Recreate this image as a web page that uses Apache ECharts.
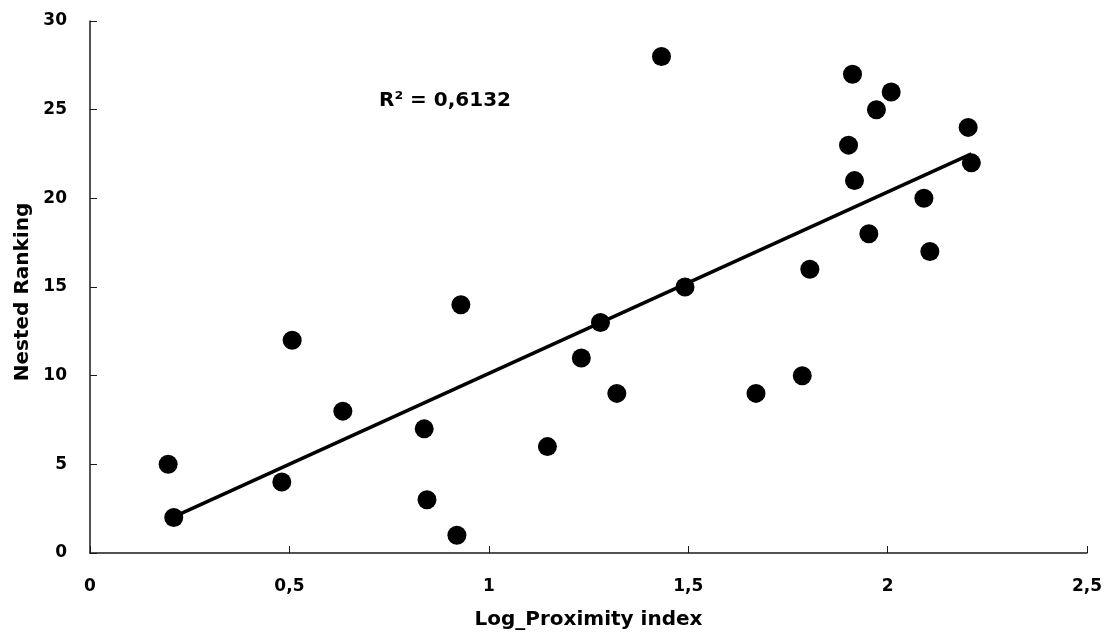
<!DOCTYPE html>
<html>
<head>
<meta charset="utf-8">
<script src="https://cdn.jsdelivr.net/npm/echarts@6/dist/echarts.min.js"></script>
<style>
  html, body { margin: 0; padding: 0; background: #fff; }
  #chart { width: 1108px; height: 639px; }
</style>
</head>
<body>
<div id="chart"></div>
<script>
// valeurs
var proximity = [0.196, 0.21, 0.481, 0.507, 0.634, 0.838, 0.845, 0.92, 0.93, 1.147, 1.232, 1.28, 1.321, 1.433,
                 1.492, 1.67, 1.786, 1.805, 1.902, 1.912, 1.917, 1.953, 1.972, 2.009, 2.091, 2.106, 2.202, 2.21];
var ranking = [5, 2, 4, 12, 8, 7, 3, 1, 14, 6, 11, 13, 9, 28,
               15, 9, 10, 16, 23, 27, 21, 18, 25, 26, 20, 17, 24, 22];
var r2Label = 'R² = 0,6132';

var font = '"DejaVu Sans", "Open Sans", sans-serif';

var points = proximity.map(function (x, i) { return [x, ranking[i]]; });

// droite de tendance (moindres carrés), du min au max de x
function trend(pts) {
    var n = pts.length, sx = 0, sy = 0, sxx = 0, sxy = 0;
    pts.forEach(function (p) { sx += p[0]; sy += p[1]; sxx += p[0] * p[0]; sxy += p[0] * p[1]; });
    var b = (n * sxy - sx * sy) / (n * sxx - sx * sx);
    var a = (sy - b * sx) / n;
    var xmin = Math.min.apply(null, pts.map(p => p[0]));
    var xmax = Math.max.apply(null, pts.map(p => p[0]));
    return [[xmin, a + b * xmin], [xmax, a + b * xmax]];
}

var myChart = echarts.init(document.getElementById('chart'));

var option = {
    backgroundColor: '#fff',
    animation: false,
    grid: { left: 90, right: 21, top: 21, bottom: 86 },
    xAxis: {
        type: 'value',
        min: 0, max: 2.5, interval: 0.5,
        name: 'Log_Proximity index',
        nameLocation: 'middle',
        nameGap: 57,
        nameTextStyle: { fontFamily: font, fontWeight: 700, fontSize: 20, color: '#000' },
        axisLine: { show: true, lineStyle: { color: '#1a1a1a', width: 1.5 } },
        axisTick: { show: true, inside: true, length: 7, lineStyle: { color: '#1a1a1a', width: 1 } },
        axisLabel: {
            margin: 25,
            fontFamily: font, fontWeight: 700, fontSize: 17, color: '#000',
            formatter: function (v) { return String(v).replace('.', ','); }
        },
        splitLine: { show: false }
    },
    yAxis: {
        type: 'value',
        min: 0, max: 30, interval: 5,
        name: 'Nested Ranking',
        nameLocation: 'middle',
        nameGap: 57,
        nameTextStyle: { fontFamily: font, fontWeight: 700, fontSize: 20, color: '#000', padding: [0, 10, 0, 0] },
        axisLine: { show: true, lineStyle: { color: '#1a1a1a', width: 1.5 } },
        axisTick: { show: true, inside: true, length: 7, lineStyle: { color: '#1a1a1a', width: 1 } },
        axisLabel: { margin: 23, fontFamily: font, fontWeight: 700, fontSize: 17, color: '#000' },
        splitLine: { show: false }
    },
    series: [
        {
            type: 'scatter',
            data: points,
            symbol: 'circle',
            symbolSize: 19,
            itemStyle: { color: '#000', opacity: 1 },
            z: 3
        },
        {
            type: 'line',
            data: trend(points),
            showSymbol: false,
            lineStyle: { color: '#000', width: 3.5 },
            z: 2
        }
    ],
    graphic: [{
        type: 'text',
        left: 379,
        top: 91,
        style: { text: r2Label, fontFamily: font, fontWeight: 700, fontSize: 20, fill: '#000' }
    }]
};

myChart.setOption(option);
</script>
</body>
</html>
